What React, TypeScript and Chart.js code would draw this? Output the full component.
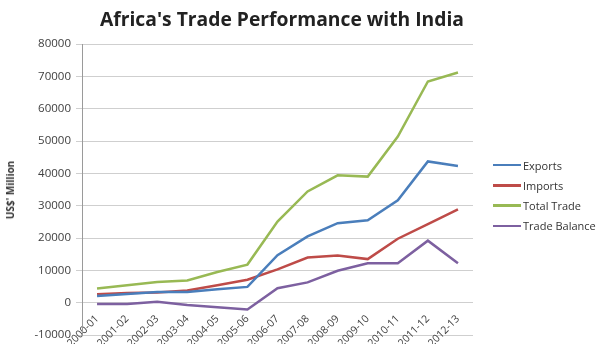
import React, { useEffect, useRef } from "react";
import { Chart, registerables } from "chart.js";

Chart.register(...registerables);

const categories = ["2000-01","2001-02","2002-03","2003-04","2004-05","2005-06","2006-07","2007-08","2008-09","2009-10","2010-11","2011-12","2012-13"];
const exportsData = [2100, 2700, 3300, 3300, 4200, 4900, 14700, 20500, 24600, 25500, 31700, 43700, 42300];
const importsData = [2600, 3000, 3200, 3800, 5400, 7100, 10300, 14000, 14600, 13500, 19800, 24300, 28900];
const totalData = [4400, 5400, 6400, 6900, 9500, 11800, 25100, 34400, 39400, 39000, 51400, 68400, 71200];
const balanceData = [-400, -400, 300, -700, -1400, -2100, 4500, 6300, 9900, 12200, 12200, 19200, 12200];
const seriesNames = ["Exports", "Imports", "Total Trade", "Trade Balance"];
const seriesColors = ["#4A7EBB", "#BE4B48", "#98B954", "#7D60A0"];
const yMin = -10000;
const yMax = 80000;
const yStep = 10000;

export default function App() {
  const ref = useRef<HTMLCanvasElement | null>(null);
  useEffect(() => {
    if (!ref.current) return;
    const values = [exportsData, importsData, totalData, balanceData];
    const chart = new Chart(ref.current, {
      type: "line",
      data: {
        labels: categories,
        datasets: values.map((d, i) => ({
          label: seriesNames[i],
          data: d,
          borderColor: seriesColors[i],
          backgroundColor: seriesColors[i],
          borderWidth: 2.5,
          pointRadius: 0,
          tension: 0,
          fill: false,
        })),
      },
      options: {
        animation: false,
        responsive: false,
        maintainAspectRatio: false,
        layout: { padding: { left: 0, right: 125, top: 44, bottom: 0 } },
        plugins: { legend: { display: false }, title: { display: false }, tooltip: { enabled: false } },
        scales: {
          x: {
            position: { y: 0 } as any,
            offset: true,
            grid: { display: false },
            border: { display: false },
            ticks: {
              minRotation: 45,
              maxRotation: 45,
              padding: 2,
              autoSkip: false,
              color: "#404040",
              font: { family: "Open Sans", size: 10.5 },
            },
            afterFit: (s: any) => { s.height = 20; },
          },
          y: {
            min: yMin,
            max: yMax,
            grid: { color: "#cfcfcf", lineWidth: 1, tickLength: 6, drawTicks: true },
            border: { display: true, color: "#9a9a9a" },
            ticks: {
              stepSize: yStep,
              padding: 5,
              color: "#404040",
              font: { family: "Open Sans", size: 11.5 },
              callback: (v: any) => String(v),
            },
            afterFit: (s: any) => { s.width = 82; },
          },
        },
      },
    });
    return () => chart.destroy();
  }, []);

  return (
    <div style={{ position: "fixed", left: 0, top: 0, width: 598, height: 344, overflow: "hidden", background: "#fff", fontFamily: "Open Sans" }}>
      <canvas ref={ref} width={598} height={347} style={{ position: "absolute", left: 0, top: 0, width: 598, height: 347 }} />
      <div style={{ position: "absolute", left: 0, width: 564, top: 5, textAlign: "center", fontSize: 19.3, fontWeight: 700, color: "#222" }}>
        Africa's Trade Performance with India
      </div>
      <div style={{ position: "absolute", left: 10, top: 190, transform: "translate(-50%, -50%) rotate(-90deg)", fontSize: 10, fontWeight: 700, color: "#333", whiteSpace: "nowrap" }}>
        US$' Million
      </div>
      {seriesNames.map((n, i) => (
        <div key={n} style={{ position: "absolute", left: 493, top: 165 + i * 20.3 - 8, height: 16, display: "flex", alignItems: "center", fontSize: 11, color: "#333", whiteSpace: "nowrap" }}>
          <span style={{ display: "inline-block", width: 28, height: 2.5, background: seriesColors[i], marginRight: 2 }} />
          {n}
        </div>
      ))}
    </div>
  );
}
